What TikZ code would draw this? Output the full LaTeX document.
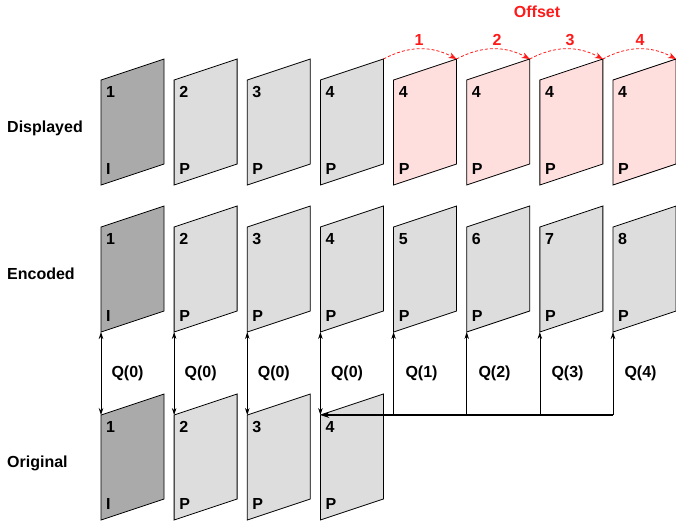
\documentclass[tikz,border=0pt]{standalone}
\usepackage{fontspec}
\setmainfont{Liberation Sans}
\usetikzlibrary{arrows.meta,calc}
\definecolor{darkfr}{HTML}{AAAAAA}
\definecolor{lightfr}{HTML}{DDDDDD}
\definecolor{pinkfr}{HTML}{FFDEDE}
\definecolor{offred}{HTML}{FF1A1A}
\newcommand\vframe[6]{%
  \coordinate (#1tl) at (#2,#3);
  \coordinate (#1tr) at ({#2+63},{#3-21});
  \coordinate (#1br) at ({#2+63},{#3+84});
  \coordinate (#1bl) at (#2,{#3+105});
  \draw[framebox,fill=#4] (#1tl) -- (#1tr) -- (#1br) -- (#1bl) -- cycle;
  \node[lbl,anchor=north west] (#1num) at ({#2+5},{#3+6}) {#5};
  \node[lbl,anchor=base west] (#1typ) at ({#2+5},{#3+94}) {#6};
}
\begin{document}
\begin{tikzpicture}[x=1pt,y=-1pt,
  framebox/.style={draw=black,line width=0.8pt,line join=miter},
  lbl/.style={font=\fontsize{16}{19}\selectfont\bfseries,inner sep=0pt},
  redlbl/.style={lbl,text=offred},
  arr/.style={line width=0.7pt,-{Stealth[length=7pt,width=4.5pt]}},
  bigarr/.style={line width=1.2pt,-{Stealth[length=9pt,width=6pt]}},
  dbl/.style={line width=0.7pt,{Stealth[length=7pt,width=4.5pt]}-{Stealth[length=7pt,width=4.5pt]}},
  redarc/.style={draw=offred,line width=0.8pt,dash pattern=on 3pt off 2pt,-{Stealth[length=8pt,width=6pt]}}]
\useasboundingbox (0,0) rectangle (676,523);
% Displayed row
\vframe{d1}{101}{80}{darkfr}{1}{I}
\vframe{d2}{174.14}{80}{lightfr}{2}{P}
\vframe{d3}{247.28}{80}{lightfr}{3}{P}
\vframe{d4}{320.42}{80}{lightfr}{4}{P}
\vframe{d5}{393.56}{80}{pinkfr}{4}{P}
\vframe{d6}{466.7}{80}{pinkfr}{4}{P}
\vframe{d7}{539.84}{80}{pinkfr}{4}{P}
\vframe{d8}{612.98}{80}{pinkfr}{4}{P}
% Encoded row
\vframe{e1}{101}{227}{darkfr}{1}{I}
\vframe{e2}{174.14}{227}{lightfr}{2}{P}
\vframe{e3}{247.28}{227}{lightfr}{3}{P}
\vframe{e4}{320.42}{227}{lightfr}{4}{P}
\vframe{e5}{393.56}{227}{lightfr}{5}{P}
\vframe{e6}{466.7}{227}{lightfr}{6}{P}
\vframe{e7}{539.84}{227}{lightfr}{7}{P}
\vframe{e8}{612.98}{227}{lightfr}{8}{P}
% Original row
\vframe{o1}{101}{415}{darkfr}{1}{I}
\vframe{o2}{174.14}{415}{lightfr}{2}{P}
\vframe{o3}{247.28}{415}{lightfr}{3}{P}
\vframe{o4}{320.42}{415}{lightfr}{4}{P}
% Row labels
\node[lbl,anchor=west] (displayed) at (7,128) {Displayed};
\node[lbl,anchor=west] (encoded) at (7,274) {Encoded};
\node[lbl,anchor=west] (original) at (7,463) {Original};
% Quantisation links
\foreach \i in {1,...,4}{
  \draw[dbl] (e\i bl) -- (o\i tl);
}
\foreach \i in {5,...,8}{
  \coordinate (j\i) at (e\i bl |- o4tl);
  \draw[arr] (j\i) -- (e\i bl);
}
\draw[bigarr] (j8) -- (o4tl);
\node[lbl] (q1) at (127.5,373) {Q(0)};
\node[lbl] (q2) at (200.6,373) {Q(0)};
\node[lbl] (q3) at (273.8,373) {Q(0)};
\node[lbl] (q4) at (347,373) {Q(0)};
\node[lbl] (q5) at (421.5,373) {Q(1)};
\node[lbl] (q6) at (494.5,373) {Q(2)};
\node[lbl] (q7) at (567.5,373) {Q(3)};
\node[lbl] (q8) at (640.5,373) {Q(4)};
% Offset arcs
\node[redlbl] (offset) at (537,12) {Offset};
\draw[redarc] (d4tr) to[bend left=28] (d5tr);
\draw[redarc] (d5tr) to[bend left=28] (d6tr);
\draw[redarc] (d6tr) to[bend left=28] (d7tr);
\draw[redarc] (d7tr) to[bend left=28] (d8tr);
\node[redlbl] (off1) at (419,40) {1};
\node[redlbl] (off2) at (497,40) {2};
\node[redlbl] (off3) at (570,40) {3};
\node[redlbl] (off4) at (640,40) {4};
\end{tikzpicture}
\end{document}
